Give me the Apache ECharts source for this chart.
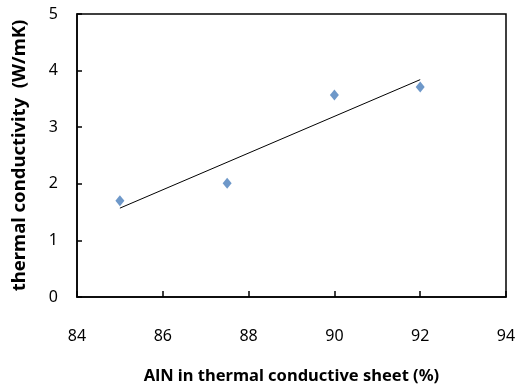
<!DOCTYPE html>
<html>
<head>
<meta charset="utf-8">
<script src="https://cdn.jsdelivr.net/npm/echarts@6/dist/echarts.min.js"></script>
<style>
    html, body { margin: 0; padding: 0; background: #fff; }
    #chart { width: 521px; height: 392px; }
</style>
</head>
<body>
<div id="chart"></div>
<script>
// 测量点
var alnContent = [85, 87.5, 90, 92];
var conductivity = [1.70, 2.01, 3.57, 3.71];
// 趋势线两端
var trendX = [85, 92];
var trendY = [1.57, 3.84];

var myChart = echarts.init(document.getElementById('chart'));

var option = {
    animation: false,
    textStyle: {
        fontFamily: 'Noto Sans'
    },
    grid: {
        left: 77,
        top: 14,
        right: 15,
        bottom: 95,
        outerBoundsMode: 'none',
        show: true,
        borderColor: '#000',
        borderWidth: 1.5
    },
    xAxis: {
        type: 'value',
        min: 84,
        max: 94,
        interval: 2,
        name: 'AlN in thermal conductive sheet (%)',
        nameLocation: 'middle',
        nameGap: 71,
        nameTextStyle: {
            color: '#000',
            fontSize: 16.5,
            fontWeight: 'bold'
        },
        axisLine: { lineStyle: { color: '#000', width: 1.5 } },
        axisTick: { inside: true, length: 6, lineStyle: { color: '#000', width: 1.5 } },
        axisLabel: { color: '#000', fontSize: 16, margin: 31 },
        splitLine: { show: false }
    },
    yAxis: {
        type: 'value',
        min: 0,
        max: 5,
        interval: 1,
        name: 'thermal conductivity  (W/mK)',
        nameLocation: 'middle',
        nameGap: 48,
        nameTextStyle: {
            color: '#000',
            fontSize: 18.5,
            fontWeight: 'bold'
        },
        axisLine: { lineStyle: { color: '#000', width: 1.5 } },
        axisTick: { inside: true, length: 5, lineStyle: { color: '#000', width: 1.5 } },
        axisLabel: { color: '#000', fontSize: 16, margin: 19 },
        splitLine: { show: false }
    },
    series: [
        {
            type: 'line',
            data: trendX.map(function (x, i) { return [x, trendY[i]]; }),
            symbol: 'none',
            lineStyle: { color: '#000', width: 1 },
            z: 1
        },
        {
            type: 'scatter',
            data: alnContent.map(function (x, i) { return [x, conductivity[i]]; }),
            symbol: 'diamond',
            symbolSize: [9, 11],
            itemStyle: { color: '#4A7EBB' },
            z: 2
        }
    ]
};

myChart.setOption(option);
</script>
</body>
</html>
